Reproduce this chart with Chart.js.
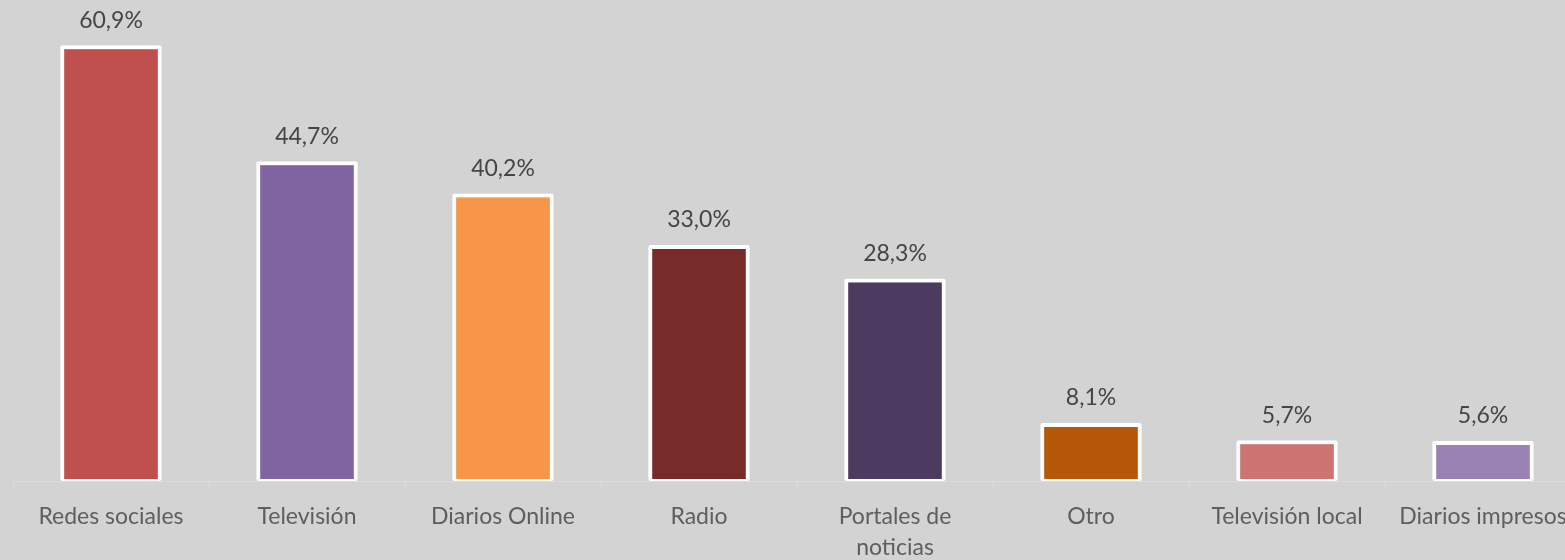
<!DOCTYPE html>
<html>
<head>
<meta charset="utf-8">
<script src="https://cdn.jsdelivr.net/npm/chart.js@4"></script>
<style>
  html, body { margin: 0; padding: 0; background: #d3d3d3; overflow: hidden; }
  #wrap { position: relative; width: 1600px; height: 560px; }
</style>
</head>
<body>
<div id="wrap"><canvas id="chart"></canvas></div>
<script>
// data
const categories = ['Redes sociales', 'Televisión', 'Diarios Online', 'Radio', ['Portales de', 'noticias'], 'Otro', 'Televisión local', 'Diarios impresos'];
const values = [60.9, 44.7, 40.2, 33.0, 28.3, 8.1, 5.7, 5.6];
const barColors = ['#c0504d', '#8064a2', '#f79646', '#772c2a', '#4c3a60', '#b65708', '#cd7371', '#9a82b4'];

const fmt = v => v.toFixed(1).replace('.', ',') + '%';

// draw the value above each bar
const valueLabels = {
  id: 'valueLabels',
  afterDatasetsDraw(chart) {
    const ctx = chart.ctx;
    const meta = chart.getDatasetMeta(0);
    ctx.save();
    ctx.font = '23px Lato';
    ctx.fillStyle = '#454545';
    ctx.textAlign = 'center';
    ctx.textBaseline = 'middle';
    meta.data.forEach((bar, i) => {
      ctx.fillText(fmt(values[i]), bar.x, bar.y - 25);
    });
    ctx.restore();
  }
};

const ctx = document.getElementById('chart').getContext('2d');
new Chart(ctx, {
  type: 'bar',
  data: {
    labels: categories,
    datasets: [{
      data: values,
      backgroundColor: barColors,
      borderColor: '#ffffff',
      borderWidth: { top: 4, left: 4, right: 4, bottom: 2 },
      borderSkipped: false,
      borderRadius: 2,
      barPercentage: 0.518,
      categoryPercentage: 1
    }]
  },
  options: {
    responsive: true,
    maintainAspectRatio: false,
    animation: false,
    layout: { padding: { top: 16, left: 13, right: 19, bottom: 0 } },
    plugins: {
      legend: { display: false },
      tooltip: { enabled: false }
    },
    scales: {
      y: {
        display: false,
        min: 0,
        max: 65
      },
      x: {
        afterFit(scale) { scale.height = 79; },
        border: { display: true, color: '#dcdcdc', width: 1 },
        grid: {
          display: true,
          drawOnChartArea: false,
          drawTicks: true,
          tickLength: 8,
          color: '#dcdcdc',
          offset: true
        },
        ticks: {
          color: '#5e5e5e',
          padding: 12,
          maxRotation: 0,
          autoSkip: false,
          font: { family: 'Lato', size: 23, lineHeight: 1.35 }
        }
      }
    }
  },
  plugins: [valueLabels]
});
</script>
</body>
</html>
